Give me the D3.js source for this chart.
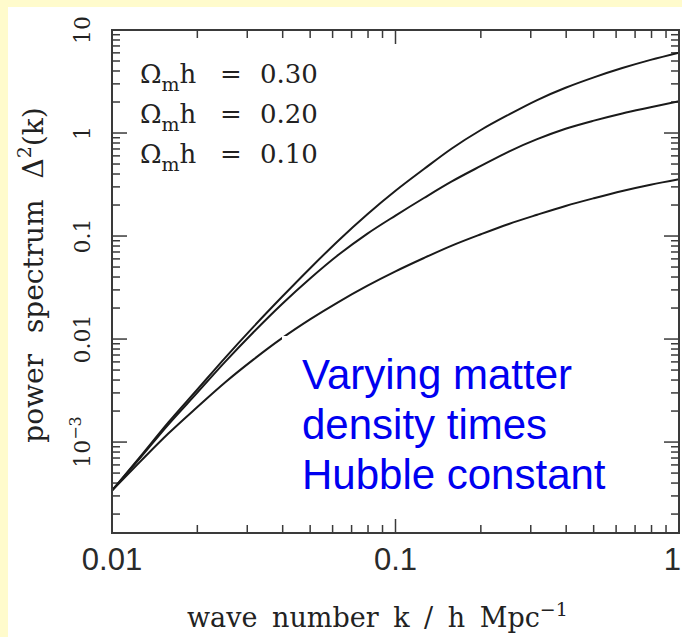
<!DOCTYPE html>
<html>
<head>
<meta charset="utf-8">
<script src="https://cdn.jsdelivr.net/npm/d3@7"></script>
<style>
  body { margin: 0; background: #fffbcc; overflow: hidden; }
  svg { display: block; }
</style>
</head>
<body>
<div id="chart"></div>
<script>
// wave number k (h/Mpc)
const kValues = [0.01, 0.0126, 0.0158, 0.02, 0.0251, 0.0316, 0.0398, 0.0501, 0.0631, 0.0794,
  0.1, 0.126, 0.158, 0.2, 0.251, 0.316, 0.398, 0.501, 0.631, 0.794, 1];
// power spectrum for each Omega_m h
const delta030 = [3.39e-4, 7.24e-4, 1.55e-3, 3.24e-3, 6.61e-3, 0.0132, 0.0257, 0.049, 0.0912, 0.162,
  0.275, 0.447, 0.708, 1.07, 1.51, 2.09, 2.75, 3.47, 4.27, 5.13, 6.03];
const delta020 = [3.39e-4, 7.08e-4, 1.48e-3, 3.02e-3, 6.03e-3, 0.0117, 0.0219, 0.0389, 0.0661, 0.105,
  0.158, 0.234, 0.339, 0.479, 0.661, 0.871, 1.10, 1.32, 1.55, 1.78, 2.04];
const delta010 = [3.39e-4, 6.5e-4, 1.21e-3, 2.19e-3, 3.81e-3, 6.35e-3, 0.0102, 0.0156, 0.023, 0.0328,
  0.0454, 0.0612, 0.0807, 0.104, 0.131, 0.161, 0.196, 0.233, 0.274, 0.315, 0.356];
const seriesLabels = ['0.30', '0.20', '0.10'];

const xTickValues = [0.01, 0.1, 1];
const xTickLabels = ['0.01', '0.1', '1'];
const yTickValues = [0.001, 0.01, 0.1, 1, 10];
const yTickLabels = ['10', '0.01', '0.1', '1', '10'];
const noteLines = ['Varying matter', 'density times', 'Hubble constant'];

const config = {
  width: 682,
  height: 637,
  plot: { left: 112, top: 30, right: 679, bottom: 533 },
  serif: '"DejaVu Serif", serif',
  sans: '"Liberation Sans", Arial, sans-serif'
}
const p = config.plot;

const svg = d3.select('#chart').append('svg')
  .attr('width', config.width)
  .attr('height', config.height);

// fond jaune et panneau blanc
svg.append('rect').attr('width', config.width).attr('height', config.height).attr('fill', '#fffbcc');
svg.append('rect').attr('x', 8).attr('y', 7)
  .attr('width', config.width - 8).attr('height', config.height - 7).attr('fill', '#ffffff');

const xScale = d3.scaleLog().domain([0.01, 1]).range([p.left, p.right]);
const yScale = d3.scaleLog().domain([1.31e-4, 10]).range([p.bottom, p.top]);

drawTicks(svg, xScale, yScale);

// courbes
const line = d3.line()
  .x((d, i) => xScale(kValues[i]))
  .y(d => yScale(d))
  .curve(d3.curveMonotoneX);

svg.append('clipPath').attr('id', 'clip')
  .append('rect').attr('x', p.left).attr('y', p.top)
  .attr('width', p.right - p.left).attr('height', p.bottom - p.top);

svg.append('g').attr('clip-path', 'url(#clip)')
  .selectAll('path')
  .data([delta030, delta020, delta010])
  .enter()
  .append('path')
  .attr('d', line)
  .attr('fill', 'none')
  .attr('stroke', '#1a1a1a')
  .attr('stroke-width', 2);

// cadre
svg.append('rect')
  .attr('x', p.left).attr('y', p.top)
  .attr('width', p.right - p.left).attr('height', p.bottom - p.top)
  .attr('fill', 'none').attr('stroke', '#3a3a3a').attr('stroke-width', 2);

appendLegend(svg);
appendTickLabels(svg, xScale, yScale);
appendAxisTitles(svg);
appendNote(svg);

function drawTicks (svg, xScale, yScale) {
  const g = svg.append('g').attr('stroke', '#3a3a3a').attr('stroke-width', 1.5);
  const xMinor = xScale.ticks().filter(v => !xTickValues.includes(v));
  const yMinor = yScale.ticks().filter(v => !yTickValues.some(t => Math.abs(t - v) / v < 1e-6));

  const xTicks = xTickValues.map(v => ({ v, len: 14 })).concat(xMinor.map(v => ({ v, len: 8 })));
  const yTicks = yTickValues.map(v => ({ v, len: 15 })).concat(yMinor.map(v => ({ v, len: 8 })));

  [p.bottom, p.top].forEach((y0, i) => {
    const dir = i === 0 ? -1 : 1;
    g.selectAll(null).data(xTicks).enter().append('line')
      .attr('x1', d => xScale(d.v)).attr('x2', d => xScale(d.v))
      .attr('y1', y0).attr('y2', d => y0 + dir * d.len);
  });
  [p.left, p.right].forEach((x0, i) => {
    const dir = i === 0 ? 1 : -1;
    g.selectAll(null).data(yTicks).enter().append('line')
      .attr('y1', d => yScale(d.v)).attr('y2', d => yScale(d.v))
      .attr('x1', x0).attr('x2', d => x0 + dir * d.len);
  });
}

function appendTickLabels (svg, xScale, yScale) {
  // le dernier libellé est collé au bord droit
  svg.selectAll('.x-label')
    .data(xTickValues)
    .enter()
    .append('text')
    .attr('class', 'x-label')
    .attr('x', (d, i) => i === xTickValues.length - 1 ? config.width - 1 : xScale(d))
    .attr('y', 570)
    .attr('text-anchor', (d, i) => i === xTickValues.length - 1 ? 'end' : 'middle')
    .attr('font-family', config.sans)
    .attr('font-size', 31)
    .attr('fill', '#2a2a2a')
    .text((d, i) => xTickLabels[i]);

  const yl = svg.selectAll('.y-label')
    .data(yTickValues)
    .enter()
    .append('text')
    .attr('class', 'y-label')
    .attr('transform', d => `translate(90,${yScale(d)}) rotate(-90)`)
    .attr('text-anchor', 'middle')
    .attr('font-family', config.serif)
    .attr('font-size', 22)
    .attr('fill', '#222');
  yl.append('tspan').text((d, i) => yTickLabels[i]);
  yl.filter(d => d === 0.001).append('tspan')
    .attr('dy', -9).attr('font-size', 16).text('\u22123');
}

function appendLegend (svg) {
  const rows = svg.selectAll('.legend-row')
    .data(seriesLabels)
    .enter()
    .append('g')
    .attr('class', 'legend-row')
    .attr('transform', (d, i) => `translate(140,${83 + 40 * i})`)
    .attr('font-family', config.serif)
    .attr('fill', '#222');

  const name = rows.append('text').attr('font-size', 26);
  name.append('tspan').text('\u03A9');
  name.append('tspan').attr('dy', 8).attr('font-size', 19).text('m');
  name.append('tspan').attr('dy', -8).text('h');

  rows.append('text').attr('x', 80).attr('font-size', 26).text('=');
  rows.append('text').attr('x', 120).attr('font-size', 26).text(d => d);
}

function appendAxisTitles (svg) {
  const xt = svg.append('text')
    .attr('x', 187).attr('y', 627)
    .attr('font-family', config.serif)
    .attr('font-size', 27)
    .attr('word-spacing', 6)
    .attr('fill', '#222');
  xt.append('tspan').text('wave number k / h Mpc');
  xt.append('tspan').attr('dy', -11).attr('font-size', 19).text('\u22121');

  const yt = svg.append('text')
    .attr('transform', 'translate(43,275) rotate(-90)')
    .attr('text-anchor', 'middle')
    .attr('font-family', config.serif)
    .attr('font-size', 28)
    .attr('word-spacing', 12)
    .attr('fill', '#222');
  yt.append('tspan').text('power spectrum \u0394');
  yt.append('tspan').attr('dy', -12).attr('font-size', 19).text('2');
  yt.append('tspan').attr('dy', 12).text('(k)');
}

function appendNote (svg) {
  svg.append('rect')
    .attr('x', 282).attr('y', 336)
    .attr('width', 330).attr('height', 165)
    .attr('fill', '#ffffff');

  svg.selectAll('.note')
    .data(noteLines)
    .enter()
    .append('text')
    .attr('class', 'note')
    .attr('x', 302)
    .attr('y', (d, i) => 389 + 50 * i)
    .attr('font-family', config.sans)
    .attr('font-size', 42)
    .attr('fill', '#0000f0')
    .text(d => d);
}
</script>
</body>
</html>
